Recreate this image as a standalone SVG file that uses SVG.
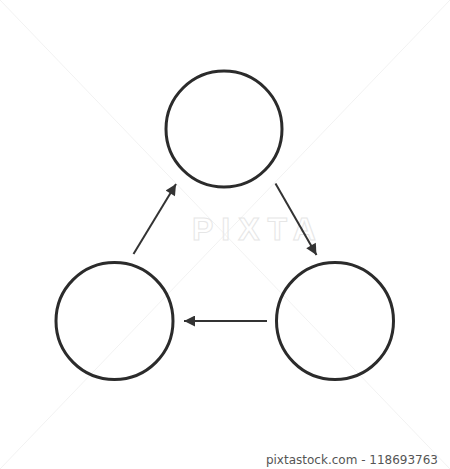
<svg xmlns="http://www.w3.org/2000/svg" width="450" height="469" viewBox="0 0 450 469">
<style>
.node{fill:none;stroke:#2b2b2b;stroke-width:3}
.edge{stroke:#333;stroke-width:2;fill:none}
.wm{fill:none;stroke:#e6e6e6;stroke-width:1;font-family:"Liberation Sans",Arial,sans-serif;font-size:32px;font-weight:bold;letter-spacing:8px}
.foot{fill:#555;font-family:"DejaVu Sans",Verdana,sans-serif;font-size:12px}
</style>
<defs>
<marker id="ah" viewBox="0 0 10 10" refX="10" refY="5" markerWidth="6" markerHeight="5.5" orient="auto" markerUnits="strokeWidth">
<path d="M0,0 L10,5 L0,10 z" fill="#333"/>
</marker>
</defs>
<rect width="450" height="469" fill="#fff"/>
<g id="watermark">
<line x1="0" y1="0" x2="450" y2="469" stroke="#f2f2f2" stroke-width="1"/>
<line x1="450" y1="0" x2="0" y2="469" stroke="#f2f2f2" stroke-width="1"/>
<text class="wm" x="192" y="240">PIXTA</text>
</g>
<g id="node-top"><circle class="node" cx="224" cy="129" r="58"/></g>
<g id="node-left"><circle class="node" cx="114.5" cy="321" r="58.5"/></g>
<g id="node-right"><circle class="node" cx="335" cy="321" r="58.5"/></g>
<g id="connectors">
<line class="edge" x1="133.5" y1="254" x2="176" y2="184" marker-end="url(#ah)"/>
<line class="edge" x1="275.5" y1="183.5" x2="316.5" y2="255" marker-end="url(#ah)"/>
<line class="edge" x1="267" y1="321" x2="184" y2="321" marker-end="url(#ah)"/>
</g>
<text class="foot" x="438" y="464" text-anchor="end">pixtastock.com - 118693763</text>
</svg>
